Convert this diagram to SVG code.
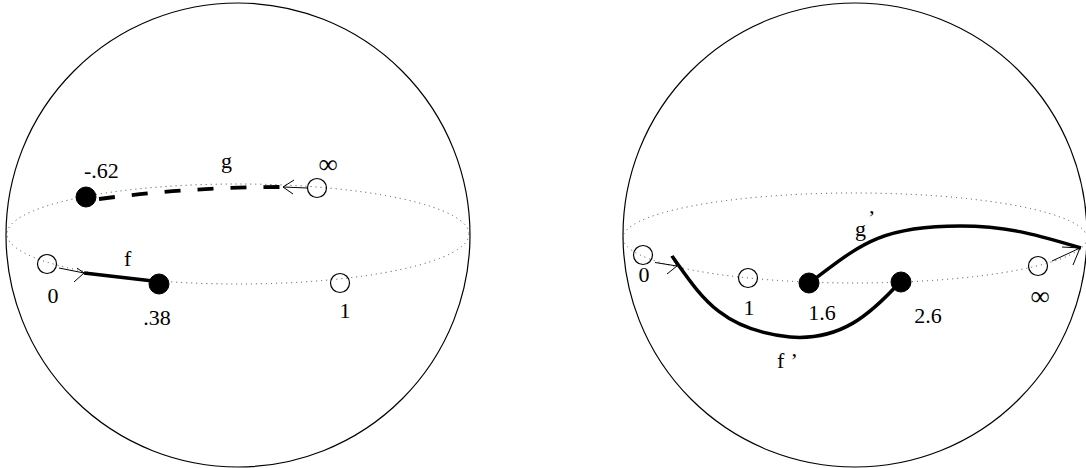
<svg xmlns="http://www.w3.org/2000/svg" width="1086" height="468" viewBox="0 0 1086 468">
<style>
.sphere{fill:none;stroke:#000;stroke-width:1.2}
.eq{fill:none;stroke:#444;stroke-width:1;stroke-dasharray:1 4}
.open{fill:none;stroke:#000;stroke-width:1.2}
.full{fill:#000;stroke:#000;stroke-width:1}
.thick{fill:none;stroke:#000;stroke-width:3.5}
.dash{fill:none;stroke:#000;stroke-width:3.8;stroke-dasharray:16 17}
.thin{fill:none;stroke:#000;stroke-width:1}
.ah{fill:none;stroke:#000;stroke-width:1;stroke-linejoin:miter}
text{font-family:"Liberation Serif","Times New Roman",serif;font-size:22px;fill:#000}
.inf{font-size:27px}
</style>
<rect width="1086" height="468" fill="#fff"/>
<g id="left-sphere">
<circle class="sphere" cx="238" cy="235" r="232"/>
<ellipse class="eq" cx="238" cy="234" rx="231" ry="50"/>
</g>
<g id="right-sphere">
<circle class="sphere" cx="855" cy="235" r="232"/>
<ellipse class="eq" cx="855" cy="238" rx="232" ry="45"/>
</g>
<g id="connectors">
<path class="dash" d="M99,199 Q190,187 283,187"/>
<line class="thin" x1="307" y1="188" x2="283" y2="187"/>
<path class="ah" d="M294,180 L283,187 L293,194"/>
<line class="thin" x1="59" y1="268" x2="84" y2="273"/>
<path class="ah" d="M77,268 L84,273 L74,282"/>
<path class="thick" d="M84,273 L153,281"/>
<line class="thin" x1="655" y1="262.5" x2="677" y2="266"/>
<path class="ah" d="M671,256 L677,266 L667,274"/>
<path class="thick" d="M672,256 C700,295 720,330 790,337 C840,341 870,315 900,282"/>
<path class="thick" d="M812,281 C860,245 880,226 960,226 C1010,226 1040,236 1081,248"/>
<line class="thin" x1="1052" y1="261" x2="1080" y2="248"/>
<path class="ah" d="M1062,247 L1080,248 L1073,265"/>
</g>
<g id="label-g"><text x="221" y="168">g</text></g>
<g id="label-f"><text x="124" y="266">f</text></g>
<g id="node-neg062"><circle class="full" cx="86" cy="197" r="10"/><text x="84" y="178">-.62</text></g>
<g id="node-inf-left"><circle class="open" cx="317" cy="188" r="9.5"/><text class="inf" x="328" y="172.5" text-anchor="middle">∞</text></g>
<g id="node-0-left"><circle class="open" cx="47" cy="264" r="9.5"/><text x="53" y="303" text-anchor="middle">0</text></g>
<g id="node-038"><circle class="full" cx="159" cy="284" r="10"/><text x="157" y="325" text-anchor="middle">.38</text></g>
<g id="node-1-left"><circle class="open" cx="340" cy="283" r="9.5"/><text x="345" y="318" text-anchor="middle">1</text></g>
<g id="node-0-right"><circle class="open" cx="643" cy="255" r="9.5"/><text x="644" y="282" text-anchor="middle">0</text></g>
<g id="node-1-right"><circle class="open" cx="748" cy="278" r="9.5"/><text x="749" y="315" text-anchor="middle">1</text></g>
<g id="node-16"><circle class="full" cx="809" cy="283" r="10"/><text x="822" y="320" text-anchor="middle">1.6</text></g>
<g id="node-26"><circle class="full" cx="901" cy="282" r="10"/><text x="928" y="323" text-anchor="middle">2.6</text></g>
<g id="node-inf-right"><circle class="open" cx="1038" cy="266" r="9.5"/><text class="inf" x="1040" y="304.5" text-anchor="middle">∞</text></g>
<g id="label-gp"><text x="855" y="236">g<tspan dx="2" dy="-11">’</tspan></text></g>
<g id="label-fp"><text x="777" y="368">f<tspan dx="5">’</tspan></text></g>
</svg>
